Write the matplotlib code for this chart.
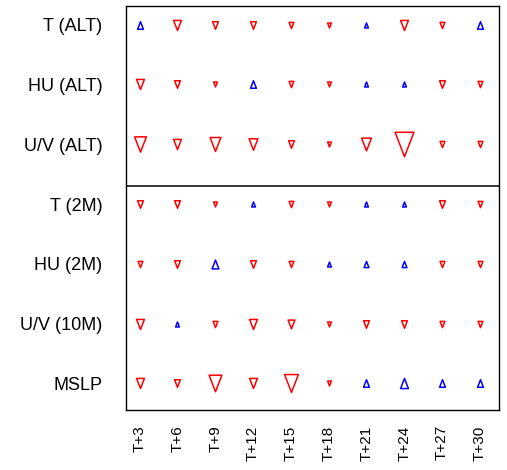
import matplotlib
matplotlib.use("Agg")
import matplotlib.pyplot as plt
from matplotlib.path import Path
from matplotlib.markers import MarkerStyle

rows = ["T (ALT)", "HU (ALT)", "U/V (ALT)", "T (2M)", "HU (2M)", "U/V (10M)", "MSLP"]
steps = ["T+3", "T+6", "T+9", "T+12", "T+15", "T+18", "T+21", "T+24", "T+27", "T+30"]

# signed scores: positive = improvement (blue up), negative = degradation (red down)
t_alt   = [7, -9, -7, -7, -6, -5, 5, -9, -6, 7]
hu_alt  = [-9, -7, -5, 7, -6, -5, 5, 5, -7, -6]
uv_alt  = [-13, -9, -12, -10, -7, -5, -11, -20, -6, -6]
t_2m    = [-7, -7, -5, 5, -6, -5, 5, 5, -7, -6]
hu_2m   = [-6, -7, 8, -7, -6, 5, 6, 6, -6, -6]
uv_10m  = [-9, 5, -6, -9, -8, -5, -7, -7, -6, -6]
mslp    = [-9, -7, -14, -9, -15, -5, 7, 9, 7, 7]

scores = [t_alt, hu_alt, uv_alt, t_2m, hu_2m, uv_10m, mslp]

plt.rcParams['font.family'] = ['Liberation Sans', 'DejaVu Sans']

hw = 0.385
up_path = Path([(-hw, -0.5), (hw, -0.5), (0, 0.5), (-hw, -0.5)],
               [Path.MOVETO, Path.LINETO, Path.LINETO, Path.CLOSEPOLY])
down_path = Path([(-hw, 0.5), (hw, 0.5), (0, -0.5), (-hw, 0.5)],
                 [Path.MOVETO, Path.LINETO, Path.LINETO, Path.CLOSEPOLY])

fig = plt.figure(figsize=(5.07, 4.70), dpi=100)
ax = fig.add_axes([126/507, 1 - 410/470, (499 - 126)/507, (410 - 5.5)/470])

for i, row in enumerate(scores):
    for j, v in enumerate(row):
        ms = (abs(v) - 1.2) / 1.07
        if v > 0:
            mk, col = up_path, "#0000ff"
        else:
            mk, col = down_path, "#ff0000"
        ax.plot([j], [i], marker=MarkerStyle(mk, joinstyle='miter'), markersize=ms,
                markerfacecolor='none', markeredgecolor=col, markeredgewidth=1.1,
                linestyle='none')

ax.axhline(2.697, color='black', linewidth=1.1)

ax.set_xlim(-0.363, 9.51)
ax.set_ylim(6.443, -0.318)
ax.set_xticks(range(len(steps)))
ax.set_xticklabels(steps, rotation=90, fontsize=11)
ax.set_yticks(range(len(rows)))
ax.set_yticklabels(rows, fontsize=13)
ax.tick_params(axis='x', length=0, pad=11)
ax.tick_params(axis='y', length=0, pad=17)
for s in ax.spines.values():
    s.set_linewidth(1.0)
    s.set_color('black')

fig.savefig("out.png", dpi=100)
